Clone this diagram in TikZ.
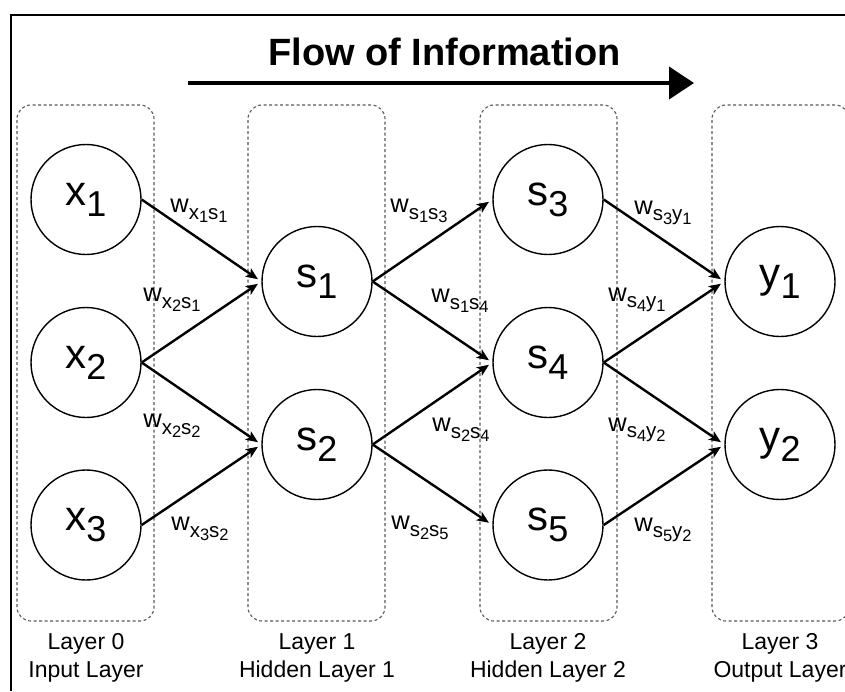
\documentclass[tikz,border=0pt]{standalone}
\usepackage{fontspec}
\setmainfont{Liberation Sans}
\usetikzlibrary{arrows.meta}
\newcommand{\nsub}[2]{#1\raisebox{-11pt}{\fontsize{36}{36}\selectfont #2}}
\newcommand{\wsub}[4]{w\raisebox{-6.5pt}{\fontsize{20.5}{20.5}\selectfont #1\raisebox{-3.5pt}{\fontsize{16.5}{16.5}\selectfont #2}#3\raisebox{-3.5pt}{\fontsize{16.5}{16.5}\selectfont #4}}}
\tikzset{
  neuron/.style={circle, draw, line width=1.4pt, minimum size=110pt, inner sep=0pt, font=\fontsize{42}{42}\selectfont},
  layerbox/.style={draw=black!65, dash pattern=on 3pt off 2.5pt, line width=1.1pt, rounded corners=14pt, minimum width=137pt, minimum height=516pt, inner sep=0pt},
  edge/.style={line width=2.4pt, -{Stealth[length=12pt,width=10pt,inset=3pt]}, shorten >=4pt},
  wlabel/.style={inner sep=0pt, font=\fontsize{25.5}{25.5}\selectfont},
  layerlabel/.style={inner sep=0pt, anchor=base, font=\fontsize{23}{23}\selectfont}
}
\begin{document}
\begin{tikzpicture}[x=1pt, y=-1pt]
\useasboundingbox (0,0) rectangle (845,691);
% frame
\coordinate (fr1) at (11,691);
\coordinate (fr2) at (11,15);
\coordinate (fr3) at (845,15);
\draw[line width=2.5pt, line join=miter] (fr1) -- (fr2) -- (fr3);
% title and flow arrow
\node[inner sep=0pt, anchor=base, font=\fontsize{38}{38}\selectfont\bfseries] (title) at (444.5,65) {Flow of Information};
\coordinate (fa) at (188,83);
\coordinate (fb) at (694,83);
\draw[line width=4pt, -{Triangle[length=25pt,width=32pt]}] (fa) -- (fb);
% layer boxes
\node[layerbox] (box0) at (85.5,363) {};
\node[layerbox] (box1) at (316.5,363) {};
\node[layerbox] (box2) at (548.5,363) {};
\node[layerbox] (box3) at (780.5,363) {};
% neurons
\node[neuron] (x1) at (86,199.5) {\nsub{x}{1}};
\node[neuron] (x2) at (86,362.5) {\nsub{x}{2}};
\node[neuron] (x3) at (86,525) {\nsub{x}{3}};
\node[neuron] (s1) at (317,281.5) {\nsub{s}{1}};
\node[neuron] (s2) at (317,444.5) {\nsub{s}{2}};
\node[neuron] (s3) at (548,199.5) {\nsub{s}{3}};
\node[neuron] (s4) at (548,362.5) {\nsub{s}{4}};
\node[neuron] (s5) at (548,525) {\nsub{s}{5}};
\node[neuron] (y1) at (780,281.5) {\nsub{y}{1}};
\node[neuron] (y2) at (780,444.5) {\nsub{y}{2}};
% edges
\draw[edge] (x1.east) -- (s1.west);
\draw[edge] (x2.east) -- (s1.west);
\draw[edge] (x2.east) -- (s2.west);
\draw[edge] (x3.east) -- (s2.west);
\draw[edge] (s1.east) -- (s3.west);
\draw[edge] (s1.east) -- (s4.west);
\draw[edge] (s2.east) -- (s4.west);
\draw[edge] (s2.east) -- (s5.west);
\draw[edge] (s3.east) -- (y1.west);
\draw[edge] (s4.east) -- (y1.west);
\draw[edge] (s4.east) -- (y2.west);
\draw[edge] (s5.east) -- (y2.west);
% weight labels
\node[wlabel] (w11) at (199,211) {\wsub{x}{1}{s}{1}};
\node[wlabel] (w21) at (172,300) {\wsub{x}{2}{s}{1}};
\node[wlabel] (w22) at (172,426) {\wsub{x}{2}{s}{2}};
\node[wlabel] (w32) at (200,529) {\wsub{x}{3}{s}{2}};
\node[wlabel] (w13) at (419,211) {\wsub{s}{1}{s}{3}};
\node[wlabel] (w14) at (460,301) {\wsub{s}{1}{s}{4}};
\node[wlabel] (w24) at (461,430) {\wsub{s}{2}{s}{4}};
\node[wlabel] (w25) at (420,528) {\wsub{s}{2}{s}{5}};
\node[wlabel] (w3y1) at (663,213) {\wsub{s}{3}{y}{1}};
\node[wlabel] (w4y1) at (637,300) {\wsub{s}{4}{y}{1}};
\node[wlabel] (w4y2) at (637,430) {\wsub{s}{4}{y}{2}};
\node[wlabel] (w5y2) at (663,530) {\wsub{s}{5}{y}{2}};
% layer labels
\node[layerlabel] (l0a) at (86,649) {Layer 0};
\node[layerlabel] (l0b) at (86,677) {Input Layer};
\node[layerlabel] (l1a) at (317,649) {Layer 1};
\node[layerlabel] (l1b) at (317,677) {Hidden Layer 1};
\node[layerlabel] (l2a) at (548,649) {Layer 2};
\node[layerlabel] (l2b) at (548,677) {Hidden Layer 2};
\node[layerlabel] (l3a) at (780,649) {Layer 3};
\node[layerlabel] (l3b) at (780,677) {Output Layer};
\end{tikzpicture}
\end{document}
